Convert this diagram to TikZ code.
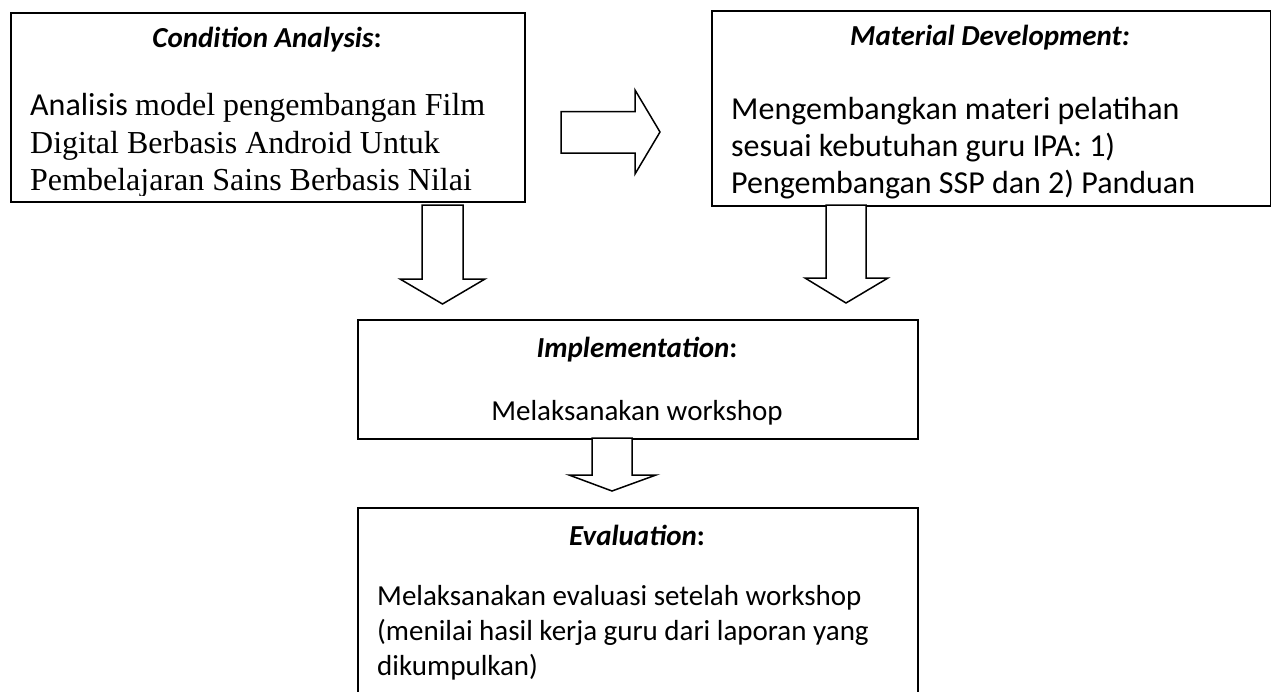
\documentclass[tikz,border=0pt]{standalone}
\usepackage{fontspec}
\setmainfont{Carlito}
\newfontfamily\timesf{Liberation Serif}
\begin{document}
\begin{tikzpicture}[x=1pt,y=-1pt,
  box/.style={draw=black,line width=1.6pt,inner sep=0pt,anchor=north west},
  blockarrow/.style={draw=black,line width=1.5pt,fill=white,line join=miter},
  ttl/.style={anchor=base,inner sep=0pt,font=\fontsize{29}{35}\selectfont\bfseries},
  bodyl/.style={anchor=base west,inner sep=0pt,font=\fontsize{32}{37}\selectfont},
  bodys/.style={anchor=base west,inner sep=0pt,font=\fontsize{29}{35}\selectfont},
  bodysc/.style={anchor=base,inner sep=0pt,font=\fontsize{29}{35}\selectfont}]
\clip (0,0) rectangle (1271,691);
\fill[white] (0,0) rectangle (1271,691);

% boxes
\node[box,minimum width=514pt,minimum height=189pt] (ca) at (10,12) {};
\node[box,minimum width=558.5pt,minimum height=195pt] (md) at (711,10) {};
\node[box,minimum width=560pt,minimum height=119pt] (im) at (357,319) {};
\node[box,minimum width=560pt,minimum height=213pt] (ev) at (357,507) {};

% Condition Analysis
\node[ttl] (catitle) at (267,47) {\itshape Condition Analysis\upshape:};
\begin{scope}
\clip (12,14) rectangle (522,195);
\node[bodyl] (ca1) at (30,115) {Analisis {\timesf model pengembangan Film}};
\node[bodyl] (ca2) at (30,153) {\timesf Digital Berbasis Android Untuk};
\node[bodyl] (ca3) at (30,190) {\timesf Pembelajaran Sains Berbasis Nilai};
\end{scope}

% Material Development
\node[ttl] (mdtitle) at (990,45) {\itshape Material Development:};
\begin{scope}
\clip (713,12) rectangle (1267,198);
\node[bodyl] (md1) at (731,119) {Mengembangkan materi pelatihan};
\node[bodyl] (md2) at (731,156) {sesuai kebutuhan guru IPA: 1)};
\node[bodyl] (md3) at (731,193) {Pengembangan SSP dan 2) Panduan};
\end{scope}

% Implementation
\node[ttl] (imtitle) at (637,357) {\itshape Implementation\upshape:};
\node[bodysc] (im1) at (637,420) {Melaksanakan workshop};

% Evaluation
\node[ttl] (evtitle) at (637,545) {\itshape Evaluation\upshape:};
\node[bodys] (ev1) at (377,605) {Melaksanakan evaluasi setelah workshop};
\node[bodys] (ev2) at (377,640) {(menilai hasil kerja guru dari laporan yang};
\node[bodys] (ev3) at (377,675) {dikumpulkan)};

% block arrows
\draw[blockarrow] (561,111.5) -- (635,111.5) -- (635,90) -- (660,132) -- (635,174) -- (635,153) -- (561,153) -- cycle;
\draw[blockarrow] (422,205) -- (463,205) -- (463,279) -- (485,279) -- (442.5,304) -- (400,279) -- (422,279) -- cycle;
\draw[blockarrow] (826,205) -- (866,205) -- (866,278) -- (888,278) -- (846,303) -- (805,278) -- (826,278) -- cycle;
\draw[blockarrow] (592,438) -- (632,438) -- (632,475) -- (656,475) -- (612,491) -- (569,475) -- (592,475) -- cycle;
\end{tikzpicture}
\end{document}
